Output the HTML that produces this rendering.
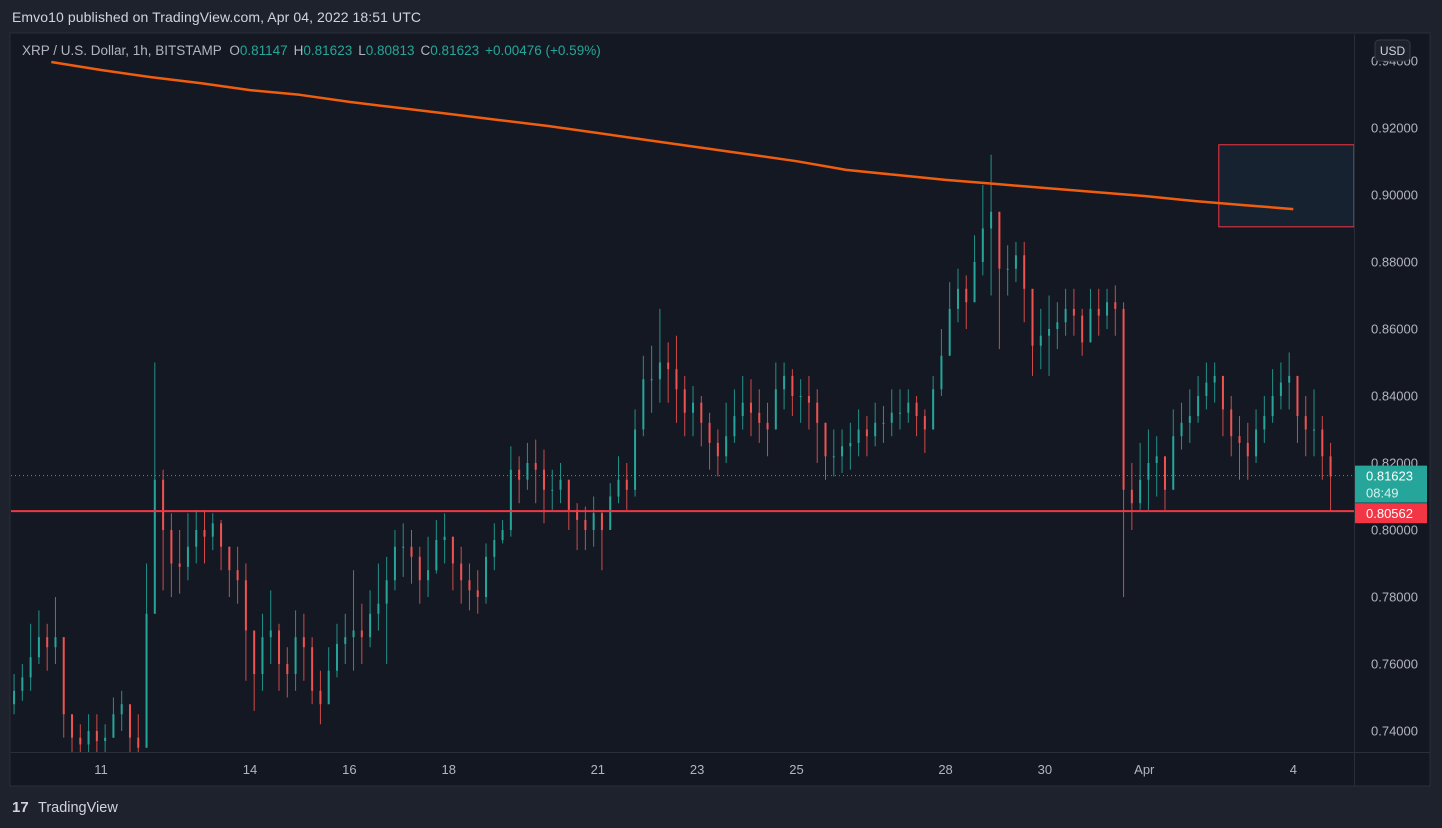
<!DOCTYPE html>
<html><head><meta charset="utf-8"><style>
html,body{margin:0;padding:0;background:#1e222d;width:1442px;height:828px;overflow:hidden;font-family:"Liberation Sans",sans-serif}
svg text{font-family:"Liberation Sans",sans-serif}
</style></head><body>
<svg id="chart" width="1442" height="828" xmlns="http://www.w3.org/2000/svg">
<rect x="0" y="0" width="1442" height="828" fill="#1e222d"/>
<text x="12" y="22" fill="#d1d4dc" font-size="14" textLength="409">Emvo10 published on TradingView.com, Apr 04, 2022 18:51 UTC</text>
<rect x="10" y="33" width="1420" height="753" fill="#131722" stroke="#2a2e39"/>
<rect x="11" y="34" width="1343" height="718" fill="#141823"/>
<line x1="1354.5" y1="34" x2="1354.5" y2="786" stroke="#2a2e39"/>
<line x1="11" y1="752.5" x2="1430" y2="752.5" stroke="#2a2e39"/>
<g id="marks"></g>
<g id="axes"></g>
<text x="22" y="55" font-size="13.5" fill="#b2b5be">XRP / U.S. Dollar, 1h, BITSTAMP <tspan dx="4">O</tspan><tspan fill="#26a69a">0.81147</tspan><tspan dx="6">H</tspan><tspan fill="#26a69a">0.81623</tspan><tspan dx="6">L</tspan><tspan fill="#26a69a">0.80813</tspan><tspan dx="6">C</tspan><tspan fill="#26a69a">0.81623</tspan><tspan dx="6" fill="#26a69a">+0.00476 (+0.59%)</tspan></text>
<rect x="1375" y="40" width="35" height="21" rx="4" fill="#1e222d" stroke="#363a45"/>
<text x="1392.5" y="55" font-size="12" fill="#d1d4dc" text-anchor="middle">USD</text>
<g>
<text x="12" y="812" font-size="15" font-weight="bold" fill="#d1d4dc">17</text>
<text x="38" y="812" font-size="14.5" fill="#d1d4dc">TradingView</text>
</g>
</svg>
<script>
const priceTicks=[0.74,0.76,0.78,0.80,0.82,0.84,0.86,0.88,0.90,0.92,0.94];
const timeLabels=["11","14","16","18","21","23","25","28","30","Apr","4"];
const timeLabelHours=[0,72,120,168,240,288,336,408,456,504,576];
const startHour=-44;
const closes=[0.752,0.756,0.762,0.768,0.765,0.768,0.745,0.738,0.736,0.740,0.737,
0.738,0.745,0.748,0.738,0.735,0.775,
0.815,0.800,0.790,0.789,0.795,0.800,
0.798,0.802,0.795,0.788,0.785,0.770,
0.757,0.768,0.770,0.760,0.757,0.768,
0.765,0.752,0.748,0.758,0.766,0.768,
0.770,0.768,0.775,0.778,0.785,0.795,
0.795,0.792,0.785,0.788,0.797,0.798,
0.790,0.785,0.782,0.780,0.792,0.797,
0.800,0.818,0.815,0.820,0.818,0.812,
0.812,0.815,0.806,0.803,0.800,0.805,
0.800,0.810,0.815,0.812,0.830,0.845,
0.845,0.850,0.848,0.842,0.835,0.838,
0.832,0.826,0.822,0.828,0.834,0.838,
0.835,0.832,0.830,0.842,0.846,0.840,
0.840,0.838,0.832,0.822,0.822,0.825,
0.826,0.830,0.828,0.832,0.832,0.835,
0.835,0.838,0.834,0.830,0.842,0.852,
0.866,0.872,0.868,0.880,0.890,0.895,
0.878,0.878,0.882,0.872,0.855,0.858,
0.860,0.862,0.866,0.864,0.856,0.866,
0.864,0.868,0.866,0.812,0.808,0.815,
0.820,0.822,0.812,0.828,0.832,0.834,
0.840,0.844,0.846,0.836,0.828,0.826,
0.822,0.830,0.834,0.840,0.844,0.846,
0.834,0.830,0.830,0.822,0.816];
const highs=[0.757,0.760,0.772,0.776,0.772,0.780,0.768,0.745,0.742,0.745,0.745,
0.742,0.750,0.752,0.746,0.745,0.790,
0.850,0.818,0.805,0.800,0.805,0.806,
0.806,0.805,0.803,0.795,0.795,0.790,
0.765,0.775,0.782,0.772,0.765,0.776,
0.775,0.768,0.758,0.765,0.772,0.775,
0.788,0.778,0.782,0.790,0.792,0.800,
0.802,0.800,0.795,0.798,0.803,0.805,
0.798,0.795,0.790,0.788,0.796,0.802,
0.803,0.825,0.822,0.826,0.827,0.824,
0.818,0.820,0.815,0.808,0.807,0.810,
0.806,0.814,0.822,0.820,0.836,0.852,
0.855,0.866,0.856,0.858,0.846,0.843,
0.840,0.835,0.830,0.838,0.842,0.846,
0.845,0.842,0.838,0.850,0.850,0.848,
0.845,0.846,0.842,0.832,0.830,0.830,
0.832,0.836,0.834,0.838,0.837,0.842,
0.842,0.842,0.840,0.836,0.846,0.860,
0.874,0.878,0.876,0.888,0.903,0.912,
0.885,0.885,0.886,0.886,0.870,0.866,
0.870,0.868,0.872,0.872,0.866,0.872,
0.872,0.872,0.873,0.868,0.820,0.826,
0.830,0.828,0.820,0.836,0.838,0.842,
0.846,0.850,0.850,0.846,0.840,0.834,
0.832,0.836,0.840,0.848,0.850,0.853,
0.842,0.840,0.842,0.834,0.826];
const lows=[0.745,0.749,0.752,0.760,0.758,0.760,0.738,0.730,0.730,0.732,0.732,
0.733,0.738,0.740,0.732,0.728,0.735,
0.785,0.782,0.780,0.781,0.785,0.790,
0.790,0.794,0.788,0.780,0.778,0.755,
0.746,0.752,0.760,0.752,0.750,0.752,
0.755,0.748,0.742,0.748,0.756,0.760,
0.758,0.760,0.765,0.770,0.760,0.782,
0.786,0.784,0.778,0.780,0.787,0.790,
0.782,0.778,0.776,0.775,0.778,0.788,
0.796,0.798,0.808,0.812,0.808,0.802,
0.806,0.808,0.800,0.794,0.794,0.795,
0.788,0.802,0.808,0.806,0.810,0.828,
0.835,0.838,0.838,0.832,0.828,0.828,
0.825,0.818,0.816,0.820,0.826,0.830,
0.828,0.826,0.822,0.830,0.836,0.834,
0.832,0.830,0.820,0.815,0.816,0.817,
0.818,0.822,0.822,0.825,0.826,0.828,
0.830,0.832,0.828,0.823,0.830,0.840,
0.858,0.862,0.860,0.868,0.876,0.870,
0.854,0.870,0.874,0.862,0.846,0.848,
0.846,0.854,0.858,0.858,0.852,0.856,
0.858,0.860,0.858,0.780,0.800,0.806,
0.806,0.810,0.806,0.815,0.824,0.826,
0.832,0.836,0.838,0.828,0.822,0.815,
0.815,0.820,0.826,0.832,0.836,0.836,
0.826,0.822,0.822,0.815,0.8056];
const firstOpen=0.748;
const maStartHour=-24;
const maValues=[0.9397,0.9373,0.9352,0.9334,0.9313,0.9299,0.9278,0.9260,0.9242,0.9224,0.9206,0.9185,0.9164,0.9143,0.9122,0.9101,0.9075,0.9060,0.9045,0.9033,0.9021,0.9009,0.8997,0.8982,0.8970,0.8958];
const lastPrice=0.81623;
const supportLevel=0.80562;
const zoneTop=0.915, zoneBottom=0.8905, zoneStartHour=540;

const NS="http://www.w3.org/2000/svg";
function yS(p){return 195+(0.90-p)*3350;}
function xS(h){return 101+h*2.07;}
function mk(tag,attrs,parent){const e=document.createElementNS(NS,tag);for(const k in attrs)e.setAttribute(k,attrs[k]);parent.appendChild(e);return e;}
const marks=document.getElementById('marks');
const axes=document.getElementById('axes');
const clip=mk('clipPath',{id:'pc'},marks);mk('rect',{x:11,y:34,width:1343,height:718},clip);
const g=mk('g',{'clip-path':'url(#pc)'},marks);

const zr=mk('rect',{x:xS(zoneStartHour),y:yS(zoneTop),width:1354-xS(zoneStartHour),height:yS(zoneBottom)-yS(zoneTop),fill:'#172230',stroke:'#f23645','stroke-width':1},g);



const lp=mk('line',{x1:11,x2:1354,y1:yS(lastPrice),y2:yS(lastPrice),stroke:'#26a69a','stroke-dasharray':'1 3'},g);



let prev=firstOpen;
closes.forEach((c,i)=>{
  const h=startHour+i*4;const x=xS(h+2);
  const o=prev;prev=c;
  const col=c>=o?'#26a69a':'#ef5350';
  const cg=mk('g',{},g);
  
  
  mk('line',{x1:x,x2:x,y1:yS(highs[i]),y2:yS(lows[i]),stroke:col,'stroke-width':1,'stroke-opacity':0.85},cg);
  const top=yS(Math.max(o,c)),bot=yS(Math.min(o,c));
  mk('rect',{x:x-1,y:top,width:2,height:Math.max(1,bot-top),fill:col},cg);
});

const pts=maValues.map((v,i)=>xS(maStartHour+i*24).toFixed(1)+','+yS(v).toFixed(1)).join(' ');
const ma=mk('polyline',{points:pts,fill:'none',stroke:'#f05d0e','stroke-width':2.5,'stroke-linejoin':'round'},g);



const sl=mk('line',{x1:11,x2:1354,y1:yS(supportLevel),y2:yS(supportLevel),stroke:'#f23645','stroke-width':2},g);



priceTicks.forEach(p=>{
  const t=mk('text',{x:1418,y:yS(p)+4.5,'font-size':13,fill:'#b2b5be','text-anchor':'end'},axes);
  t.textContent=p.toFixed(5);
  
  
});
timeLabels.forEach((l,i)=>{
  const t=mk('text',{x:xS(timeLabelHours[i]),y:774,'font-size':13,fill:'#b2b5be','text-anchor':'middle'},axes);
  t.textContent=l;
  
  
});
const b1=mk('rect',{x:1355,y:yS(lastPrice)-10,width:72,height:37,fill:'#26a69a'},axes);


const t1=mk('text',{x:1366,y:yS(lastPrice)+5,'font-size':13,fill:'#ffffff'},axes);t1.textContent=lastPrice.toFixed(5);


const t2=mk('text',{x:1366,y:yS(lastPrice)+22,'font-size':13,fill:'#d8f0ee'},axes);t2.textContent='08:49';


const b2=mk('rect',{x:1355,y:yS(supportLevel)-8,width:72,height:20,fill:'#f23645'},axes);


const t3=mk('text',{x:1366,y:yS(supportLevel)+7,'font-size':13,fill:'#ffffff'},axes);t3.textContent=supportLevel.toFixed(5);


</script>
</body></html>
